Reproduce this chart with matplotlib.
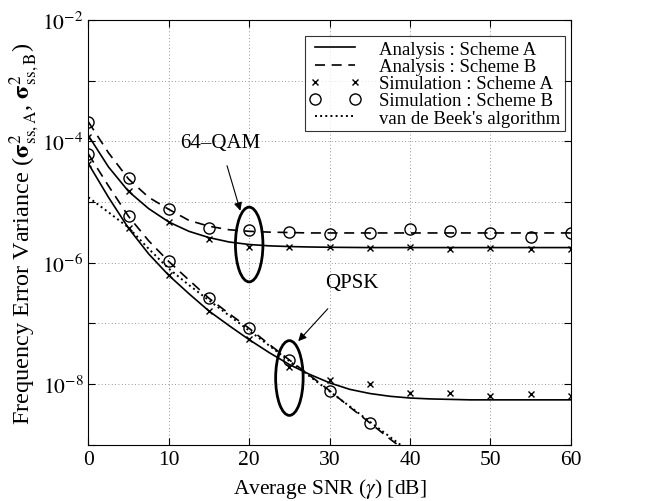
import numpy as np
import matplotlib
matplotlib.use('Agg')
import matplotlib.pyplot as plt
from matplotlib.patches import Ellipse
from matplotlib.ticker import FixedLocator, FuncFormatter, NullLocator

plt.rcParams['font.family'] = ['Liberation Serif', 'DejaVu Serif']
plt.rcParams['mathtext.fontset'] = 'stix'

# simulation points (every 5 dB)
snr_sim = [0, 5, 10, 15, 20, 25, 30, 35, 40, 45, 50, 55, 60]
qam_sim_a = [1.2e-4, 1.5e-5, 4.7e-6, 2.5e-6, 1.8e-6, 1.85e-6, 1.8e-6, 1.75e-6,
             1.8e-6, 1.7e-6, 1.75e-6, 1.7e-6, 1.7e-6]
qam_sim_b = [2.1e-4, 2.5e-5, 7.8e-6, 3.7e-6, 3.5e-6, 3.2e-6, 3.0e-6, 3.1e-6,
             3.6e-6, 3.3e-6, 3.1e-6, 2.7e-6, 3.1e-6]
qpsk_sim_a = [4.3e-5, 3.7e-6, 6.2e-7, 1.6e-7, 5.5e-8, 1.95e-8, 1.15e-8, 1.0e-8,
              7.1e-9, 7.1e-9, 6.4e-9, 6.9e-9, 6.4e-9]
snr_sim_b = [0, 5, 10, 15, 20, 25, 30, 35]
qpsk_sim_b = [6.2e-5, 5.8e-6, 1.05e-6, 2.6e-7, 8.3e-8, 2.5e-8, 7.8e-9, 2.3e-9]

# analysis curves (read every 2.5 dB)
snr_ana = [0, 2.5, 5, 7.5, 10, 12.5, 15, 17.5, 20, 22.5, 25, 27.5, 30, 32.5,
           35, 37.5, 40, 42.5, 45, 47.5, 50, 52.5, 55, 57.5, 60]
qam_ana_a = [1.25e-4, 3.8e-5, 1.5e-5, 7.8e-6, 4.7e-6, 3.3e-6, 2.6e-6, 2.2e-6,
             2.0e-6, 1.9e-6, 1.85e-6, 1.82e-6, 1.8e-6, 1.79e-6, 1.78e-6,
             1.78e-6, 1.78e-6, 1.78e-6, 1.78e-6, 1.78e-6, 1.78e-6, 1.78e-6,
             1.78e-6, 1.78e-6, 1.78e-6]
qam_ana_b = [2.1e-4, 6.5e-5, 2.4e-5, 1.2e-5, 7.6e-6, 5.0e-6, 4.0e-6, 3.5e-6,
             3.3e-6, 3.2e-6, 3.15e-6, 3.1e-6, 3.1e-6, 3.1e-6, 3.1e-6, 3.1e-6,
             3.1e-6, 3.1e-6, 3.1e-6, 3.1e-6, 3.1e-6, 3.1e-6, 3.1e-6, 3.1e-6,
             3.1e-6]
qpsk_ana_a = [4.3e-5, 1.2e-5, 3.7e-6, 1.4e-6, 6.2e-7, 3.1e-7, 1.6e-7, 9.2e-8,
              5.4e-8, 3.3e-8, 2.1e-8, 1.45e-8, 1.05e-8, 8.2e-9, 7.0e-9, 6.3e-9,
              5.9e-9, 5.7e-9, 5.6e-9, 5.5e-9, 5.5e-9, 5.5e-9, 5.5e-9, 5.5e-9,
              5.5e-9]
snr_ana_b = [0, 2.5, 5, 7.5, 10, 12.5, 15, 17.5, 20, 22.5, 25, 27.5, 30, 32.5,
             35, 37.5, 40]
qpsk_ana_b = [6.2e-5, 1.85e-5, 5.8e-6, 2.3e-6, 1.05e-6, 5.2e-7, 2.6e-7,
              1.45e-7, 8.3e-8, 4.5e-8, 2.5e-8, 1.4e-8, 7.8e-9, 4.2e-9, 2.3e-9,
              1.25e-9, 7e-10]
vdb = [1.2e-5, 6.8e-6, 3.8e-6, 1.7e-6, 8e-7, 4.3e-7, 2.4e-7, 1.35e-7, 7.6e-8,
       4.3e-8, 2.4e-8, 1.35e-8, 7.6e-9, 4.3e-9, 2.4e-9, 1.35e-9, 7.6e-10]

fig = plt.figure(figsize=(6.45, 5.02), dpi=100)
ax = fig.add_axes([0.137, 0.112, 0.748, 0.846])

lw = 1.2
ax.plot(snr_ana, qam_ana_a, 'k-', lw=lw, label='Analysis : Scheme A')
ax.plot(snr_ana, qam_ana_b, 'k--', lw=lw, dashes=(6, 4), label='Analysis : Scheme B')
ax.plot(snr_sim, qam_sim_a, 'kx', ms=5, mew=1.0, label='Simulation : Scheme A')
ax.plot(snr_sim, qam_sim_b, 'o', mfc='none', mec='k', ms=8, mew=1.0,
        label='Simulation : Scheme B')
ax.plot(snr_ana_b, vdb, 'k:', lw=1.4, label="van de Beek's algorithm")

ax.plot(snr_ana, qpsk_ana_a, 'k-', lw=lw)
ax.plot(snr_ana_b, qpsk_ana_b, 'k--', lw=lw, dashes=(6, 4))
ax.plot(snr_sim, qpsk_sim_a, 'kx', ms=5, mew=1.0)
ax.plot(snr_sim_b, qpsk_sim_b, 'o', mfc='none', mec='k', ms=8, mew=1.0)

ax.set_yscale('log')
ax.set_xlim(0, 60)
ax.set_ylim(1e-9, 1e-2)
ax.set_xticks([0, 10, 20, 30, 40, 50, 60])
ax.yaxis.set_major_locator(FixedLocator([10.0 ** k for k in range(-9, -1)]))
ax.yaxis.set_minor_locator(NullLocator())
ax.yaxis.set_major_formatter(FuncFormatter(
    lambda v, p: r'$10^{%d}$' % round(np.log10(v)) if round(np.log10(v)) % 2 == 0 else ''))
ax.tick_params(direction='in', top=True, right=True, labelsize=15.5, length=5)
ax.grid(True, which='major', ls=(0, (1, 3)), color='0.45', lw=0.6)

ax.set_xlabel(r'Average SNR ($\gamma$) [dB]', fontsize=15.5, labelpad=5)
ax.set_ylabel(r'Frequency Error Variance ($\mathbf{\sigma}^{2}_{\mathrm{ss,A}}$, '
              r'$\mathbf{\sigma}^{2}_{\mathrm{ss,B}}$)',
              fontsize=17.5, labelpad=0)

leg = ax.legend(loc='upper right', bbox_to_anchor=(0.988, 0.962), fontsize=13.5,
                numpoints=2, handlelength=2.7, frameon=True, fancybox=False,
                borderpad=0.25, labelspacing=0.0, handletextpad=1.0,
                borderaxespad=0)
leg.get_frame().set_edgecolor('k')
leg.get_frame().set_linewidth(0.8)

# annotations
def to_axes(x, y):
    return ax.transAxes.inverted().transform(ax.transData.transform((x, y)))

for cx, cy in [(20, 2.0e-6), (25, 1.26e-8)]:
    c = to_axes(cx, cy)
    ax.add_patch(Ellipse(c, 0.057, 0.176, transform=ax.transAxes,
                         fill=False, ec='k', lw=2.0, zorder=5))

ax.annotate('64–QAM', xy=(18.9, 7.2e-6), xytext=(16.4, 9.5e-5), fontsize=15,
            ha='center', va='center',
            arrowprops=dict(arrowstyle='-|>', color='k', lw=0.8,
                            mutation_scale=12, shrinkA=8, shrinkB=0))
ax.annotate('QPSK', xy=(26.1, 5.1e-8), xytext=(32.8, 4.8e-7), fontsize=15,
            ha='center', va='center',
            arrowprops=dict(arrowstyle='-|>', color='k', lw=0.8,
                            mutation_scale=12, shrinkA=14, shrinkB=0))

fig.savefig('out.png', dpi=100)
